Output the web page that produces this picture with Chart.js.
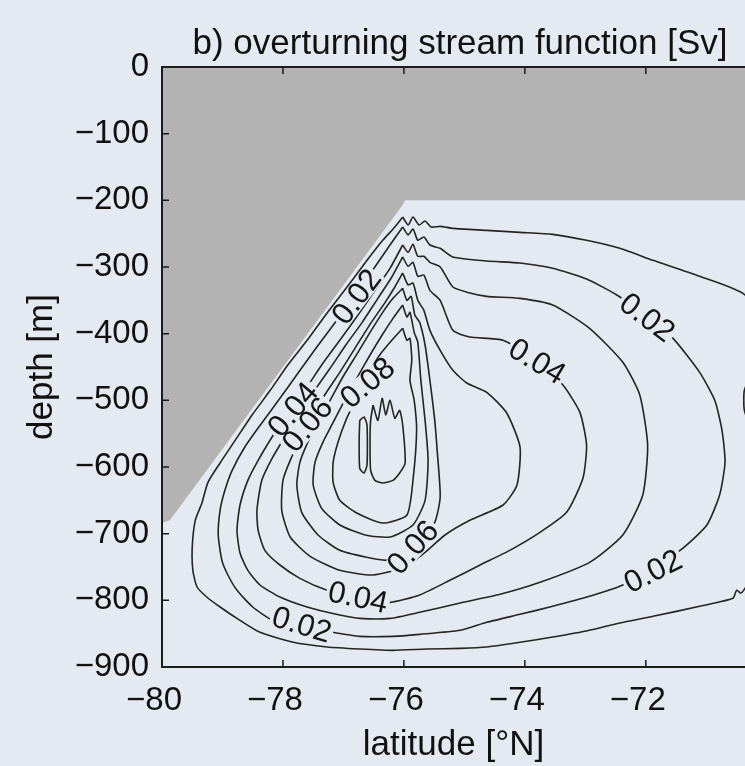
<!DOCTYPE html>
<html>
<head>
<meta charset="utf-8">
<script src="https://cdn.jsdelivr.net/npm/chart.js@4.4.1/dist/chart.umd.min.js"></script>
<style>
  html, body { margin: 0; padding: 0; background: #e5eaf2; }
  #wrap { width: 745px; height: 766px; overflow: hidden; }
</style>
</head>
<body>
<div id="wrap"><canvas id="myChart" width="745" height="766"></canvas></div>
<script>
// ice shelf outline [latitude, depth]
const ice = [[-80, -684], [-79.87, -680], [-76.02, -207], [-75.98, -200], [-70, -200]];

// contours of the overturning stream function, [latitude, depth] pairs
const c01 = [[-76.02,-225],[-75.93,-237],[-75.85,-225],[-75.75,-237],[-75.65,-231],[-75.55,-240],[-75.40,-239],[-75.19,-242],[-74.63,-245],[-74.08,-248],[-73.54,-251],[-72.98,-260],[-72.43,-272],[-71.88,-290],[-71.11,-314],[-70.36,-342],[-70.15,-395],[-70.22,-447],[-70.37,-485],[-70.38,-500],[-70.37,-515],[-70.22,-560],[-70.03,-665],[-70.15,-747],[-70.36,-782],[-70.43,-789],[-70.50,-785],[-70.56,-797],[-71.11,-809],[-71.88,-824],[-72.43,-834],[-72.98,-846],[-73.54,-855],[-74.08,-863],[-74.63,-870],[-75.07,-872],[-75.62,-873],[-76.18,-875],[-76.73,-873],[-77.27,-870],[-77.83,-863],[-78.38,-848],[-78.71,-830],[-79.04,-810],[-79.26,-795],[-79.42,-780],[-79.49,-755],[-79.50,-720],[-79.45,-680],[-79.34,-654],[-79.24,-623],[-79.04,-594],[-78.79,-560],[-78.51,-522],[-78.21,-485],[-77.92,-447],[-77.60,-410],[-77.27,-369],[-76.94,-330],[-76.61,-290],[-76.35,-260],[-76.15,-240],[-76.02,-225]];
const c02 = [[-76.02,-240],[-75.93,-252],[-75.85,-243],[-75.77,-260],[-75.67,-255],[-75.57,-267],[-75.40,-272],[-75.19,-285],[-74.63,-291],[-74.08,-294],[-73.54,-302],[-72.98,-318],[-72.48,-342],[-71.98,-375],[-71.55,-407],[-71.11,-458],[-70.86,-500],[-70.74,-545],[-70.69,-593],[-70.78,-642],[-70.99,-687],[-71.39,-722],[-71.88,-752],[-72.38,-777],[-72.93,-794],[-73.54,-809],[-74.08,-821],[-74.63,-833],[-75.07,-845],[-75.74,-851],[-76.18,-854],[-76.73,-854],[-77.17,-848],[-77.72,-839],[-78.17,-830],[-78.50,-810],[-78.76,-785],[-78.91,-762],[-79.01,-740],[-79.07,-702],[-79.04,-665],[-78.96,-635],[-78.84,-605],[-78.63,-570],[-78.35,-534],[-78.05,-497],[-77.75,-459],[-77.44,-420],[-77.11,-380],[-76.78,-339],[-76.48,-300],[-76.23,-267],[-76.02,-240]];
const c03 = [[-76.02,-267],[-75.93,-278],[-75.85,-266],[-75.77,-284],[-75.67,-284],[-75.57,-293],[-75.40,-300],[-75.19,-330],[-74.91,-339],[-74.63,-344],[-74.08,-347],[-73.54,-357],[-72.93,-392],[-72.38,-443],[-72.10,-492],[-71.97,-567],[-72.05,-642],[-72.38,-702],[-72.93,-743],[-73.75,-773],[-74.41,-791],[-75.07,-804],[-75.74,-818],[-76.23,-827],[-76.73,-827],[-77.06,-822],[-77.60,-810],[-78.05,-795],[-78.38,-777],[-78.58,-755],[-78.71,-729],[-78.76,-695],[-78.71,-657],[-78.58,-620],[-78.41,-590],[-78.18,-555],[-77.92,-519],[-77.64,-485],[-77.36,-447],[-77.06,-410],[-76.76,-372],[-76.48,-335],[-76.23,-302],[-76.02,-267]];
const c04 = [[-76.02,-285],[-75.93,-299],[-75.85,-293],[-75.77,-314],[-75.67,-312],[-75.57,-335],[-75.40,-350],[-75.19,-395],[-74.91,-405],[-74.36,-410],[-73.80,-440],[-73.37,-477],[-73.09,-518],[-72.98,-567],[-73.04,-617],[-73.31,-668],[-73.75,-698],[-74.25,-725],[-74.74,-747],[-75.24,-770],[-75.74,-792],[-76.23,-803],[-76.76,-797],[-77.27,-785],[-77.72,-767],[-78.05,-747],[-78.30,-725],[-78.41,-695],[-78.43,-665],[-78.35,-620],[-78.18,-587],[-77.97,-555],[-77.75,-522],[-77.50,-488],[-77.22,-452],[-76.96,-417],[-76.69,-383],[-76.43,-347],[-76.20,-315],[-76.02,-285]];
const c05 = [[-76.02,-309],[-75.93,-327],[-75.85,-324],[-75.77,-350],[-75.67,-365],[-75.57,-395],[-75.40,-425],[-75.19,-455],[-74.96,-474],[-74.63,-488],[-74.30,-519],[-74.08,-570],[-74.13,-627],[-74.36,-657],[-74.91,-680],[-75.32,-702],[-75.65,-728],[-75.98,-750],[-76.51,-762],[-77.06,-755],[-77.55,-734],[-77.88,-705],[-78.02,-665],[-78.00,-620],[-77.88,-590],[-77.72,-560],[-77.52,-527],[-77.31,-492],[-77.06,-458],[-76.81,-422],[-76.56,-386],[-76.31,-353],[-76.15,-330],[-76.02,-309]];
const c06 = [[-76.02,-332],[-75.95,-350],[-75.88,-344],[-75.82,-372],[-75.74,-383],[-75.65,-417],[-75.57,-470],[-75.49,-530],[-75.45,-575],[-75.40,-645],[-75.49,-683],[-75.74,-710],[-75.98,-729],[-76.28,-740],[-76.64,-735],[-77.06,-725],[-77.42,-702],[-77.69,-668],[-77.77,-627],[-77.72,-593],[-77.59,-563],[-77.42,-533],[-77.22,-500],[-77.01,-465],[-76.78,-431],[-76.56,-398],[-76.35,-368],[-76.18,-347],[-76.02,-332]];
const c07 = [[-76.02,-357],[-75.95,-375],[-75.90,-368],[-75.83,-398],[-75.77,-413],[-75.72,-470],[-75.65,-530],[-75.60,-590],[-75.65,-650],[-75.85,-687],[-76.23,-705],[-76.64,-702],[-77.06,-687],[-77.36,-662],[-77.50,-627],[-77.47,-593],[-77.34,-563],[-77.17,-533],[-76.98,-500],[-76.78,-467],[-76.56,-432],[-76.36,-402],[-76.18,-377],[-76.02,-357]];
const c08 = [[-76.02,-392],[-75.95,-410],[-75.90,-407],[-75.87,-440],[-75.90,-470],[-75.83,-500],[-75.79,-545],[-75.85,-620],[-75.95,-672],[-76.35,-684],[-76.78,-669],[-77.06,-650],[-77.17,-623],[-77.17,-593],[-77.09,-563],[-76.96,-530],[-76.79,-497],[-76.60,-462],[-76.40,-432],[-76.20,-410],[-76.02,-392]];
const c09a = [[-76.51,-507],[-76.43,-530],[-76.36,-497],[-76.30,-522],[-76.23,-500],[-76.15,-527],[-76.07,-515],[-76.02,-537],[-75.98,-594],[-76.07,-609],[-76.18,-620],[-76.35,-624],[-76.48,-620],[-76.55,-605],[-76.56,-560],[-76.55,-530],[-76.51,-507]];
const c09b = [[-76.73,-530],[-76.66,-525],[-76.61,-537],[-76.61,-597],[-76.66,-609],[-76.73,-602],[-76.74,-560],[-76.73,-530]];

// inline contour labels
const labelText  = ['0.02', '0.04', '0.02', '0.08', '0.04', '0.06', '0.06', '0.04', '0.02', '0.02'];
const labelLat   = [-76.78, -73.80, -71.98, -76.60, -77.83, -77.59, -75.85, -76.76, -77.69, -71.88];
const labelDepth = [-345, -442, -376, -474, -514, -537, -721, -796, -837, -757];
const labelAngle = [-53, 31, 37, -40, -50, -50, -48, 12, 17, -27];

const xMin = -80, xMax = -70.36;
const PAPER = '#e5eaf2';
const FONT = '"Liberation Sans", Arial, Helvetica, sans-serif';

Chart.defaults.font.family = FONT;
Chart.defaults.color = '#111';

function minus(v) {
    return v === 0 ? '0' : '\u2212' + Math.abs(v);
}

function toXY(arr) {
    return arr.map(p => ({x: p[0], y: p[1]}));
}

const contours = [c01, c02, c03, c04, c05, c06, c07, c08, c09a, c09b];
const datasets = contours.map(c => ({
    data: toXY(c),
    borderColor: '#242424',
    borderWidth: 1.6,
    pointRadius: 0,
    tension: 0.2,
    fill: false,
    order: 1
}));
datasets.push({
    data: toXY(ice),
    borderWidth: 0,
    borderColor: 'rgba(0,0,0,0)',
    backgroundColor: '#b3b3b3',
    pointRadius: 0,
    tension: 0,
    fill: 'end',
    order: 10
});

const frame = {
    id: 'frame',
    afterDatasetsDraw(chart) {
        const {ctx, scales: {x, y}} = chart;
        ctx.save();
        ctx.font = '31px ' + FONT;
        ctx.textAlign = 'center';
        ctx.textBaseline = 'middle';
        // masks first, so the labels cut the lines
        for (let i = 0; i < labelText.length; i++) {
            ctx.save();
            ctx.translate(x.getPixelForValue(labelLat[i]), y.getPixelForValue(labelDepth[i]));
            ctx.rotate(labelAngle[i] * Math.PI / 180);
            const w = ctx.measureText(labelText[i]).width;
            ctx.fillStyle = PAPER;
            ctx.fillRect(-w / 2 - 2, -11, w + 4, 22);
            ctx.restore();
        }
        for (let i = 0; i < labelText.length; i++) {
            ctx.save();
            ctx.translate(x.getPixelForValue(labelLat[i]), y.getPixelForValue(labelDepth[i]));
            ctx.rotate(labelAngle[i] * Math.PI / 180);
            ctx.fillStyle = '#151515';
            ctx.fillText(labelText[i], 0, 1);
            ctx.restore();
        }
        ctx.restore();
    },
    afterDraw(chart) {
        const {ctx, chartArea: a, scales: {x, y}} = chart;
        ctx.save();
        ctx.strokeStyle = '#1c1c1c';
        ctx.lineWidth = 2;
        ctx.beginPath();
        ctx.moveTo(a.right + 2, a.top);
        ctx.lineTo(a.left, a.top);
        ctx.lineTo(a.left, a.bottom);
        ctx.lineTo(a.right + 2, a.bottom);
        ctx.stroke();
        // inward tick marks
        ctx.lineWidth = 1.5;
        ctx.beginPath();
        x.ticks.forEach(t => {
            const px = x.getPixelForValue(t.value);
            ctx.moveTo(px, a.bottom);
            ctx.lineTo(px, a.bottom - 7);
            ctx.moveTo(px, a.top);
            ctx.lineTo(px, a.top + 7);
        });
        y.ticks.forEach(t => {
            const py = y.getPixelForValue(t.value);
            ctx.moveTo(a.left, py);
            ctx.lineTo(a.left + 7, py);
        });
        ctx.stroke();
        // title
        ctx.fillStyle = '#111';
        ctx.font = '35px ' + FONT;
        ctx.textAlign = 'center';
        ctx.textBaseline = 'alphabetic';
        ctx.fillText('b) overturning stream function [Sv]', 460, 54);
        ctx.restore();
    }
};

new Chart('myChart', {
    type: 'line',
    data: {datasets: datasets},
    options: {
        responsive: false,
        animation: false,
        devicePixelRatio: 1,
        layout: {padding: {top: 67, right: 0, left: 0, bottom: 0}},
        plugins: {
            legend: {display: false},
            tooltip: {enabled: false}
        },
        scales: {
            x: {
                type: 'linear',
                min: xMin,
                max: xMax,
                afterFit(s) { s.height = 99; },
                ticks: {
                    stepSize: 2,
                    includeBounds: false,
                    padding: 14,
                    labelOffset: -8,
                    autoSkip: false,
                    maxRotation: 0,
                    color: '#111',
                    font: {size: 33},
                    callback: v => minus(v)
                },
                grid: {display: false, drawTicks: false},
                border: {display: false},
                title: {
                    display: true,
                    text: 'latitude [\u00B0N]',
                    color: '#111',
                    font: {size: 35},
                    padding: {top: 0, bottom: 0}
                }
            },
            y: {
                type: 'linear',
                min: -900,
                max: 0,
                afterFit(s) { s.width = 162; },
                ticks: {
                    stepSize: 100,
                    padding: 13,
                    color: '#111',
                    font: {size: 33},
                    callback: v => minus(v)
                },
                grid: {display: false, drawTicks: false},
                border: {display: false},
                title: {
                    display: true,
                    text: 'depth [m]',
                    color: '#111',
                    font: {size: 35},
                    padding: {top: 21, bottom: 0}
                }
            }
        }
    },
    plugins: [frame]
});
</script>
</body>
</html>
